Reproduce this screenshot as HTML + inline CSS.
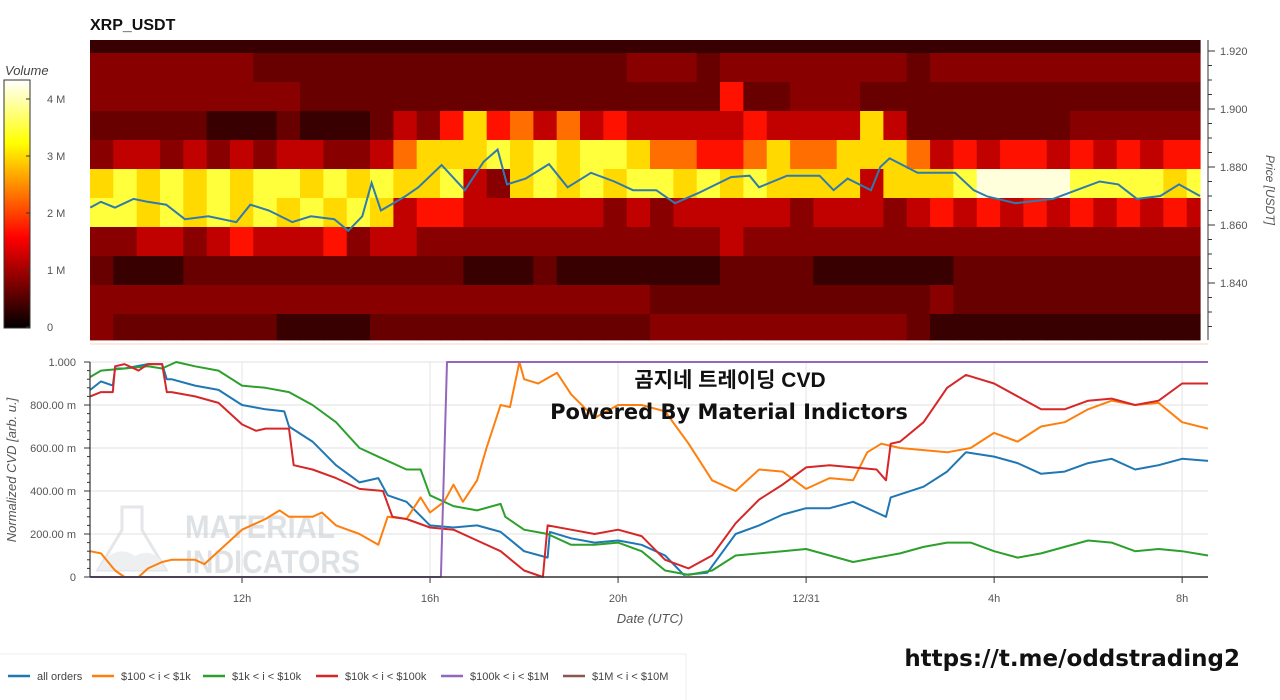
<!DOCTYPE html>
<html><head><meta charset="utf-8">
<style>
html,body{margin:0;padding:0;background:#fff;width:1280px;height:700px;overflow:hidden}
svg{display:block;font-family:"Liberation Sans","Noto Sans CJK KR",sans-serif}
</style></head>
<body>
<svg id="chart" width="1280" height="700" viewBox="0 0 1280 700">
<defs>
<linearGradient id="hotgrad" x1="0" y1="1" x2="0" y2="0">
<stop offset="0" stop-color="#000"/><stop offset="0.365" stop-color="#ff0000"/><stop offset="0.746" stop-color="#ffff00"/><stop offset="1" stop-color="#ffffff"/>
</linearGradient>
</defs>
<text x="90" y="30" font-size="16" font-weight="bold" fill="#111">XRP_USDT</text>
<g id="heat"></g>
<g id="priceg"></g>
<g id="raxis"></g>
<g id="cbar"></g>
<g id="lower"></g>
<g id="legend"></g>
<text x="1240" y="666" text-anchor="end" font-size="23" font-weight="bold" fill="#111" style="font-family:'DejaVu Sans','Liberation Sans',sans-serif">https://t.me/oddstrading2</text>
</svg>
<script>
// ---- Data ----
const tStart = 8.766, tEnd = 32.55;
const volumeRowPrices = [1.9193,1.9093,1.8993,1.8893,1.8793,1.8693,1.8593,1.8493,1.8393,1.8293,1.8193];
const volumeRows = [
"11111111 11111111 11111111 11111111 11111111 11111111",
"33333332 22222222 22222223 33233333 33323333 33333333",
"33333333 32222222 22222222 22252233 32222222 22222222",
"22222111 21112435 75646454 44445444 47422222 22333333",
"34434343 44334677 78787887 66556766 77764545 54545455",
"78787878 87878778 43787878 87878777 74777899 99888878",
"88787878 78787455 44444434 34444434 44345454 54545454",
"33443454 44534433 33333333 33343333 33333333 33333333",
"21112222 22222222 11121111 11122221 11111222 22222222",
"33333333 33333333 33333333 22222222 22223222 22222222",
"32222222 11112222 22222222 33333333 33321111 11111111"
];
const volumeLevelsM = [0, 0.35, 0.65, 0.85, 1.2, 1.7, 2.3, 3.0, 3.5, 4.2];
const volumeStepHours = 0.5;
const volumeTicks = [0,1,2,3,4];
const volumeMax = 4.35;

const priceTimes = [8.77,9,9.3,9.7,10,10.4,10.8,11.3,11.9,12.2,12.6,13.1,13.5,14.0,14.3,14.6,14.8,15,15.5,15.8,16.3,16.8,17.2,17.5,17.7,18.1,18.6,19,19.5,20,20.4,20.9,21.3,21.8,22.5,22.9,23.1,23.7,24.4,24.7,25,25.5,25.7,25.9,26.5,27.3,27.7,28,28.6,29.4,29.9,30.4,30.8,31.2,31.7,32.1,32.55];
const priceValues = [1.866,1.868,1.866,1.869,1.868,1.867,1.862,1.863,1.861,1.867,1.865,1.861,1.863,1.862,1.858,1.863,1.8745,1.865,1.8697,1.873,1.8807,1.872,1.8818,1.886,1.874,1.876,1.881,1.873,1.878,1.875,1.872,1.872,1.8675,1.871,1.8765,1.877,1.873,1.877,1.877,1.872,1.876,1.872,1.880,1.883,1.878,1.878,1.872,1.8698,1.8675,1.869,1.872,1.875,1.874,1.869,1.870,1.874,1.870];
const priceTicks = [1.84,1.86,1.88,1.90,1.92];

const allTimes = [8.77,9,9.25,9.3,9.5,10,10.3,10.4,10.5,11,11.5,12,12.5,12.9,13.0,13.5,14,14.5,14.9,15.1,15.5,16,16.5,17,17.5,18,18.5,18.55,19,19.5,20,20.5,21,21.4,21.9,22.5,23,23.5,24,24.5,25,25.5,25.7,25.8,26.5,27,27.4,28,28.5,29,29.5,30,30.5,31,31.5,32,32.55];
const allValues = [0.87,0.91,0.89,0.97,0.97,0.99,0.99,0.92,0.92,0.89,0.87,0.80,0.78,0.77,0.70,0.63,0.52,0.44,0.46,0.38,0.35,0.24,0.23,0.24,0.21,0.12,0.09,0.21,0.18,0.16,0.17,0.15,0.10,0.01,0.02,0.20,0.24,0.29,0.32,0.32,0.35,0.30,0.28,0.37,0.42,0.49,0.58,0.56,0.53,0.48,0.49,0.53,0.55,0.50,0.52,0.55,0.54];

const smallTimes = [8.77,9,9.3,9.5,9.8,10,10.3,10.5,11,11.2,11.5,12,12.5,12.8,13,13.5,13.7,14,14.5,14.9,15.1,15.5,15.8,16,16.3,16.5,16.7,17,17.2,17.5,17.7,17.9,18,18.3,18.7,19,19.5,20,20.5,21,21.5,22,22.5,23,23.5,24,24.5,25,25.3,25.6,26,26.5,27,27.5,28,28.5,29,29.5,30,30.5,31,31.5,32,32.55];
const smallValues = [0.12,0.11,0.03,0.0,0.0,0.04,0.07,0.08,0.08,0.06,0.12,0.22,0.27,0.31,0.28,0.28,0.30,0.24,0.20,0.15,0.28,0.27,0.37,0.30,0.35,0.43,0.35,0.45,0.60,0.80,0.79,1.0,0.92,0.90,0.95,0.85,0.74,0.80,0.80,0.77,0.62,0.45,0.40,0.50,0.49,0.41,0.46,0.45,0.58,0.62,0.60,0.59,0.58,0.60,0.67,0.63,0.70,0.72,0.78,0.82,0.80,0.81,0.72,0.69];

const midTimes = [8.77,9,9.5,10,10.3,10.6,11,11.5,12,12.5,13,13.5,14,14.5,15,15.5,15.8,16,16.5,17,17.5,17.6,18,18.5,19,19.5,20,20.5,21,21.5,22,22.5,23,23.5,24,24.5,25,25.5,26,26.5,27,27.5,28,28.5,29,29.5,30,30.5,31,31.5,32,32.55];
const midValues = [0.93,0.96,0.97,0.98,0.97,1.0,0.98,0.96,0.89,0.88,0.86,0.80,0.72,0.60,0.55,0.50,0.50,0.38,0.33,0.31,0.34,0.28,0.22,0.20,0.15,0.15,0.16,0.12,0.03,0.01,0.03,0.10,0.11,0.12,0.13,0.10,0.07,0.09,0.11,0.14,0.16,0.16,0.12,0.09,0.11,0.14,0.17,0.16,0.12,0.13,0.12,0.10];

const largeTimes = [8.77,9,9.25,9.3,9.5,9.8,10,10.3,10.4,10.5,11,11.5,12,12.3,12.5,13,13.1,13.5,14,14.5,15,15.2,15.5,16,16.5,17,17.5,18,18.4,18.5,19,19.5,20,20.5,21,21.5,22,22.5,23,23.5,24,24.5,25,25.5,25.7,25.8,26,26.5,27,27.4,28,28.5,29,29.5,30,30.5,31,31.5,32,32.55];
const largeValues = [0.84,0.86,0.86,0.98,0.99,0.96,0.99,0.99,0.86,0.86,0.84,0.81,0.71,0.68,0.69,0.69,0.52,0.50,0.46,0.41,0.40,0.28,0.27,0.23,0.22,0.17,0.12,0.03,0.0,0.24,0.22,0.20,0.22,0.19,0.08,0.04,0.10,0.25,0.36,0.43,0.51,0.52,0.51,0.50,0.45,0.62,0.63,0.72,0.88,0.94,0.90,0.84,0.78,0.78,0.82,0.83,0.80,0.82,0.90,0.90];

const whaleTimes = [8.77,16.23,16.36,32.55];
const whaleValues = [0,0,1,1];

const cvdTicks = [0,0.2,0.4,0.6,0.8,1.0];
const cvdTickLabels = ["0","200.00 m","400.00 m","600.00 m","800.00 m","1.000"];
const timeTicks = [12,16,20,24,28,32];
const timeTickLabels = ["12h","16h","20h","12/31","4h","8h"];
const legendLabels = ["all orders","$100 < i < $1k","$1k < i < $10k","$10k < i < $100k","$100k < i < $1M","$1M < i < $10M"];
const legendColors = ["#1f77b4","#ff7f0e","#2ca02c","#d62728","#9467bd","#8c564b"];

// ---- Scales ----
const NS = "http://www.w3.org/2000/svg";
function mk(tag, attrs, parent){const e=document.createElementNS(NS,tag);for(const k in attrs)e.setAttribute(k,attrs[k]);parent.appendChild(e);return e;}
const topX = t => 90 + (t - tStart) / (tEnd - tStart) * 1110;
const priceY = p => 167 + (1.88 - p) * 2900;
const lowX = t => 90 + (t - tStart) / (tEnd - tStart) * 1118;
const cvdY = v => 577 - v * 215;
const cbY = v => 327 - v * 57;
function hot(v){const t=Math.max(0,Math.min(1,v/volumeMax));
 const r=Math.min(1,t/0.365), g=Math.max(0,Math.min(1,(t-0.365)/0.381)), b=Math.max(0,Math.min(1,(t-0.746)/0.254));
 return `rgb(${Math.round(r*255)},${Math.round(g*255)},${Math.round(b*255)})`;}

// ---- Heatmap ----
const heat = document.getElementById('heat');
volumeRows.forEach((row, ri) => {
  const vals = row.replace(/ /g,'').split('').map(Number);
  const p1 = volumeRowPrices[ri] + 0.01, p0 = volumeRowPrices[ri];
  let y0 = Math.max(40, priceY(p1)), y1 = Math.min(340, priceY(p0));
  vals.forEach((d, ci) => {
    const t0 = tStart + ci * volumeStepHours, t1 = Math.min(tEnd, t0 + volumeStepHours);
    if (t0 >= tEnd) return;
    const x0 = topX(t0), x1 = Math.min(1200, topX(t1));
    const r = mk('rect', {x:x0.toFixed(1), y:y0.toFixed(1), width:(x1-x0+0.6).toFixed(1), height:(y1-y0+0.4).toFixed(1), fill:hot(volumeLevelsM[d])}, heat);
    
    
  });
});
// price line
const pg = document.getElementById('priceg');
const pl = mk('polyline', {points: priceTimes.map((t,i)=>topX(t).toFixed(1)+','+priceY(priceValues[i]).toFixed(1)).join(' '), fill:'none', stroke:'#2e7bb0', 'stroke-width':2}, pg);



// right axis
const ra = document.getElementById('raxis');
mk('line',{x1:1208,y1:40,x2:1208,y2:340,stroke:'#333','stroke-width':1},ra);
for(let p=1.825;p<=1.9251;p+=0.005){const y=priceY(p); if(y<40||y>340)continue; mk('line',{x1:1208,y1:y,x2:1212,y2:y,stroke:'#333'},ra);}
priceTicks.forEach(p=>{const y=priceY(p);mk('line',{x1:1208,y1:y,x2:1215,y2:y,stroke:'#333'},ra);
 const t=mk('text',{x:1220,y:y+4,'font-size':11,fill:'#555'},ra);t.textContent=p.toFixed(3);
 
 });
const pt = mk('text',{x:1266,y:190,'font-size':12,'font-style':'italic',fill:'#555','text-anchor':'middle',transform:'rotate(90 1266 190)'},ra);
pt.textContent='Price [USDT]';



// colorbar
const cb = document.getElementById('cbar');
mk('rect',{x:4,y:80,width:26,height:248,fill:'url(#hotgrad)',stroke:'#333','stroke-width':1},cb);
const vt = mk('text',{x:5,y:75,'font-size':13,'font-style':'italic',fill:'#444'},cb); vt.textContent='Volume';


volumeTicks.forEach(v=>{const y=cbY(v);mk('line',{x1:26,y1:y,x2:30,y2:y,stroke:'#333'},cb);
 const t=mk('text',{x:47,y:y+4,'font-size':11,fill:'#555'},cb);t.textContent=v===0?'0':v+' M';
 
 });

// ---- Lower chart ----
const lo = document.getElementById('lower');
mk('rect',{x:90,y:343,width:1118,height:2,fill:'#fbe9e2'},lo);
cvdTicks.forEach((v,i)=>{const y=cvdY(v);
 mk('line',{x1:90,y1:y,x2:1208,y2:y,stroke:'#e8e8e8','stroke-width':1.2},lo);
 mk('line',{x1:84,y1:y,x2:90,y2:y,stroke:'#333'},lo);
 const t=mk('text',{x:76,y:y+4,'font-size':11,fill:'#555','text-anchor':'end'},lo);t.textContent=cvdTickLabels[i];
 
 });
for(let v=0;v<=1.001;v+=0.04){const y=cvdY(v);mk('line',{x1:87,y1:y,x2:90,y2:y,stroke:'#333'},lo);}
timeTicks.forEach((t,i)=>{const x=lowX(t);
 mk('line',{x1:x,y1:362,x2:x,y2:577,stroke:'#e8e8e8','stroke-width':1.2},lo);
 mk('line',{x1:x,y1:577,x2:x,y2:583,stroke:'#333'},lo);
 const tx=mk('text',{x:x,y:602,'font-size':11,fill:'#555','text-anchor':'middle'},lo);tx.textContent=timeTickLabels[i];
 
 });
// watermark
const wm = mk('g',{opacity:0.55},lo);


mk('path',{d:'M122 507 L142 507 L142 530 L166 570 L98 570 L122 530 Z',fill:'none',stroke:'#cfd3d8','stroke-width':3},wm);
mk('path',{d:'M104 560 Q120 545 135 556 Q150 548 160 560 L166 570 L98 570 Z',fill:'#dfe2e6'},wm);
const w1=mk('text',{x:185,y:538,'font-size':32,'font-weight':'bold',fill:'#c6cbd1',textLength:150,lengthAdjust:'spacingAndGlyphs'},wm);w1.textContent='MATERIAL';
const w2=mk('text',{x:185,y:573,'font-size':32,'font-weight':'bold',fill:'#c6cbd1',textLength:175,lengthAdjust:'spacingAndGlyphs'},wm);w2.textContent='INDICATORS';

const series=[[allTimes,allValues,0,'cvd-all-orders'],[smallTimes,smallValues,1,'cvd-100-1k'],[midTimes,midValues,2,'cvd-1k-10k'],[largeTimes,largeValues,3,'cvd-10k-100k'],[whaleTimes,whaleValues,4,'cvd-100k-1m']];
series.forEach(s=>{const l=mk('polyline',{points:s[0].map((t,i)=>lowX(t).toFixed(1)+','+cvdY(s[1][i]).toFixed(1)).join(' '),fill:'none',stroke:legendColors[s[2]],'stroke-width':2,'stroke-linejoin':'round'},lo);
 
 });
mk('line',{x1:90,y1:362,x2:90,y2:577,stroke:'#333','stroke-width':1.2},lo);
mk('line',{x1:90,y1:577,x2:1208,y2:577,stroke:'#333','stroke-width':1.5},lo);
const yt=mk('text',{x:16,y:470,'font-size':13,'font-style':'italic',fill:'#555','text-anchor':'middle',transform:'rotate(-90 16 470)'},lo);yt.textContent='Normalized CVD [arb. u.]';


const xt=mk('text',{x:650,y:623,'font-size':13,'font-style':'italic',fill:'#555','text-anchor':'middle'},lo);xt.textContent='Date (UTC)';


const o1=mk('text',{x:730,y:387,'font-size':21,'font-weight':'bold',fill:'#111','text-anchor':'middle'},lo);o1.textContent='곰지네 트레이딩 CVD';


const o2=mk('text',{x:729,y:419,'font-size':21,'font-weight':'bold',fill:'#111','text-anchor':'middle',style:"font-family:'DejaVu Sans',sans-serif"},lo);o2.textContent='Powered By Material Indictors';



// ---- Legend ----
const lg=document.getElementById('legend');
mk('line',{x1:0,y1:654,x2:686,y2:654,stroke:'#eee'},lg);
mk('line',{x1:686,y1:654,x2:686,y2:700,stroke:'#eee'},lg);
const lx=[8,92,203,316,441,563];
legendLabels.forEach((lab,i)=>{const x=lx[i];
 const g=mk('g',{},lg);
 
 
 mk('line',{x1:x,y1:676,x2:x+22,y2:676,stroke:legendColors[i],'stroke-width':2.5},g);
 const t=mk('text',{x:x+29,y:680,'font-size':11,fill:'#444'},g);t.textContent=lab;});
</script>
</body></html>
